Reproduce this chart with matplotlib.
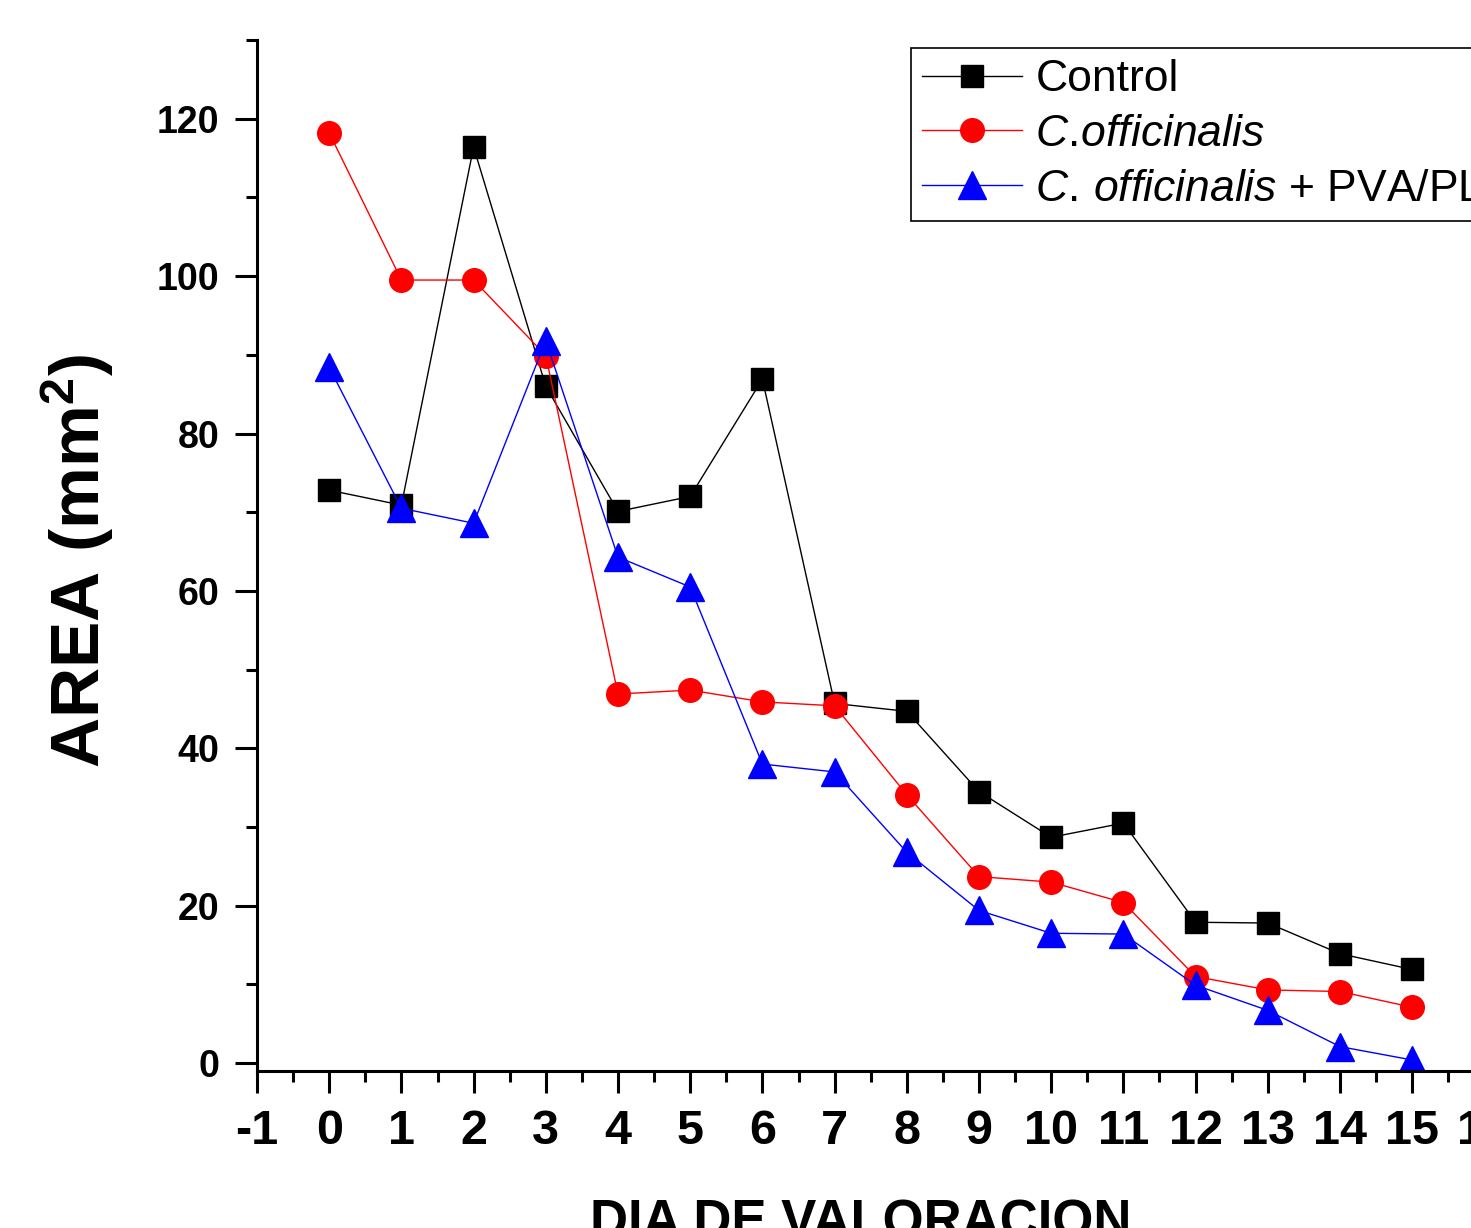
import numpy as np
import matplotlib
matplotlib.use('Agg')
import matplotlib.pyplot as plt
from matplotlib.ticker import MultipleLocator

plt.rcParams['font.family'] = ['Liberation Sans', 'DejaVu Sans']
plt.rcParams['mathtext.fontset'] = 'custom'
plt.rcParams['mathtext.rm'] = 'Liberation Sans'
plt.rcParams['mathtext.it'] = 'Liberation Sans:italic'
plt.rcParams['mathtext.bf'] = 'Liberation Sans:bold'
plt.rcParams['axes.unicode_minus'] = False

# dia de valoracion
dias = list(range(16))

# area (mm2) por tratamiento
control = [72.8, 70.9, 116.4, 86.0, 70.1, 72.0, 86.9, 45.7,
           44.7, 34.5, 28.7, 30.5, 17.9, 17.8, 13.9, 11.9]
c_officinalis = [118.2, 99.5, 99.5, 89.9, 46.9, 47.4, 45.9, 45.4,
                 34.1, 23.7, 23.0, 20.4, 11.0, 9.3, 9.1, 7.1]
c_officinalis_pva = [88.4, 70.5, 68.6, 91.8, 64.3, 60.5, 38.0, 37.0,
                     26.8, 19.4, 16.5, 16.4, 9.9, 6.7, 2.1, 0.4]

etiquetas = ['Control',
             r'$\mathit{C.\!officinalis}$',
             r'$\mathit{C.\,officinalis}$ + PVA/PLA']

W, H = 1471, 1228
fig = plt.figure(figsize=(W / 100, H / 100), dpi=100)
ax = fig.add_axes([257 / W, (H - 1071) / H, 17 * 72.2 / W, (1071 - 40) / H])

ax.plot(dias, control, color='black', lw=1, marker='s', ms=16.5,
        mec='black', mfc='black', label=etiquetas[0])
ax.plot(dias, c_officinalis, color='red', lw=1, marker='o', ms=17,
        mec='red', mfc='red', label=etiquetas[1])
ax.plot(dias, c_officinalis_pva, color='blue', lw=1, marker='^', ms=20,
        mec='blue', mfc='blue', label=etiquetas[2])

ax.set_xlim(-1, 16)
ax.set_ylim(-1, 130)
ax.set_xticks(range(-1, 17))
ax.set_yticks(range(0, 121, 20))
ax.xaxis.set_minor_locator(MultipleLocator(0.5))
ax.yaxis.set_minor_locator(MultipleLocator(10))

for s in ['top', 'right']:
    ax.spines[s].set_visible(False)
for s in ['left', 'bottom']:
    ax.spines[s].set_linewidth(2.2)

ax.tick_params(which='major', direction='out', length=16, width=2.2, pad=11)
ax.tick_params(which='minor', direction='out', length=8, width=2.2)
ax.tick_params(axis='x', which='major', labelsize=35)
ax.tick_params(axis='y', which='major', labelsize=27)
for lab in ax.get_xticklabels() + ax.get_yticklabels():
    lab.set_fontweight('bold')

fig.text(78 / W, 1 - 561 / H, r'AREA (mm$^{\mathbf{2}}$)', rotation=90,
         ha='center', va='center', fontsize=50, fontweight='bold')
fig.text(861 / W, 1 - 1198 / H, 'DIA DE VALORACION', ha='center', va='top',
         fontsize=38, fontweight='bold')

leg = ax.legend(loc='upper left', bbox_to_anchor=(911 / W, 1 - 48 / H),
                bbox_transform=fig.transFigure, borderaxespad=0,
                fontsize=32, handlelength=2.25, handletextpad=0.3,
                labelspacing=0.31, borderpad=0.25, fancybox=False,
                framealpha=1, edgecolor='black')
leg.get_frame().set_linewidth(1.2)

fig.savefig('out.png', dpi=100)
